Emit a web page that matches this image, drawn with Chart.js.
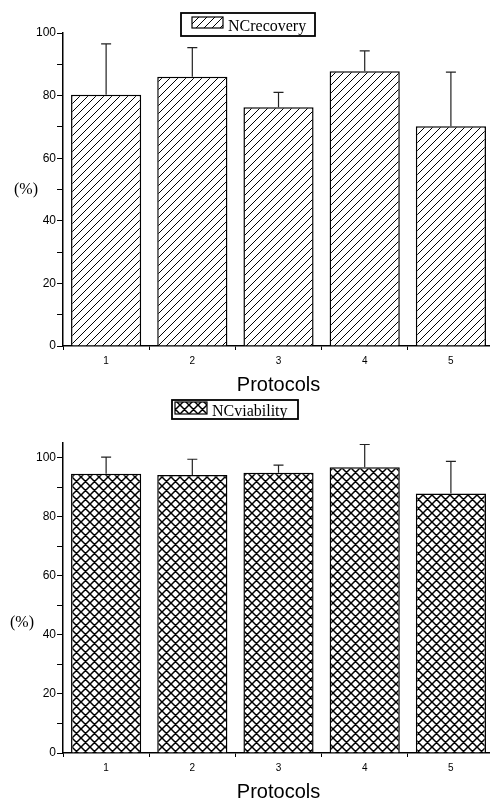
<!DOCTYPE html>
<html>
<head>
<meta charset="utf-8">
<script src="https://cdn.jsdelivr.net/npm/chart.js@4.4.0/dist/chart.umd.min.js"></script>
<style>
html, body { margin: 0; padding: 0; background: #fff; overflow: hidden; }
#wrap { position: relative; width: 490px; height: 800px; overflow: hidden; }
canvas { position: absolute; left: 0; }
#recoveryChart { top: 0; }
#viabilityChart { top: 396px; }
</style>
</head>
<body>
<div id="wrap">
  <canvas id="recoveryChart" width="494" height="397"></canvas>
  <canvas id="viabilityChart" width="494" height="408"></canvas>
</div>
<script>
// values
const protocols = ['1', '2', '3', '4', '5'];
const recovery = [80.3, 86.0, 76.3, 87.8, 70.2];
const recoveryErr = [16.2, 9.3, 4.7, 6.5, 17.3];
const viability = [94.6, 94.2, 94.9, 96.8, 87.9];
const viabilityErr = [5.6, 5.3, 2.6, 7.7, 10.9];

function makeHatch(ctx, cross) {
    let s = cross ? 9 : 8;
    let c = document.createElement('canvas');
    c.width = s;
    c.height = s;
    let g = c.getContext('2d');
    g.fillStyle = '#fff';
    g.fillRect(0, 0, s, s);
    g.strokeStyle = '#000';
    g.lineWidth = cross ? 1.5 : 1;
    g.beginPath();
    g.moveTo(-1, s + 1); g.lineTo(s + 1, -1);
    g.moveTo(-1, 1); g.lineTo(1, -1);
    g.moveTo(s - 1, s + 1); g.lineTo(s + 1, s - 1);
    if (cross) {
        g.moveTo(-1, -1); g.lineTo(s + 1, s + 1);
        g.moveTo(s - 1, -1); g.lineTo(s + 1, 1);
        g.moveTo(-1, s - 1); g.lineTo(1, s + 1);
    }
    g.stroke();
    return ctx.createPattern(c, 'repeat');
}

// up-only error bars with a cap
const errorBars = {
    id: 'errorBars',
    afterDatasetsDraw(chart, args, opts) {
        const ctx = chart.ctx;
        const meta = chart.getDatasetMeta(0);
        const y = chart.scales.y;
        const vals = chart.data.datasets[0].data;
        ctx.save();
        ctx.strokeStyle = '#222';
        ctx.lineWidth = 1.2;
        meta.data.forEach((bar, i) => {
            const top = y.getPixelForValue(vals[i] + opts.errors[i]);
            ctx.beginPath();
            ctx.moveTo(bar.x, bar.y);
            ctx.lineTo(bar.x, top);
            ctx.moveTo(bar.x - 5, top);
            ctx.lineTo(bar.x + 5, top);
            ctx.stroke();
        });
        ctx.restore();
    }
};

// framed legend like the old plot
const boxLegend = {
    id: 'boxLegend',
    afterDraw(chart, args, o) {
        const ctx = chart.ctx;
        const ds = chart.data.datasets[0];
        ctx.save();
        ctx.strokeStyle = '#000';
        ctx.lineWidth = 1.8;
        ctx.strokeRect(o.x, o.y, o.w, o.h);
        ctx.fillStyle = ds.backgroundColor;
        ctx.fillRect(o.x + o.sx, o.y + o.sy, o.sw, o.sh);
        ctx.lineWidth = 1.2;
        ctx.strokeRect(o.x + o.sx, o.y + o.sy, o.sw, o.sh);
        ctx.fillStyle = '#000';
        ctx.font = '16px "Liberation Serif"';
        ctx.textBaseline = 'alphabetic';
        ctx.fillText(ds.label, o.x + o.tx, o.y + o.ty);
        ctx.restore();
    }
};

// horizontal "(%)" to the left of the y axis
const percentLabel = {
    id: 'percentLabel',
    afterDraw(chart, args, o) {
        const ctx = chart.ctx;
        ctx.save();
        ctx.fillStyle = '#000';
        ctx.font = '16px "Liberation Serif"';
        ctx.textAlign = 'center';
        ctx.textBaseline = 'middle';
        ctx.fillText('(%)', o.x, chart.scales.y.getPixelForValue(o.value));
        ctx.restore();
    }
};

function scaleOptions(max) {
    return {
        x: {
            grid: { display: true, drawOnChartArea: false, drawTicks: true, tickLength: 4, color: '#000', offset: true },
            border: { display: true, color: '#000', width: 1.5 },
            ticks: { color: '#000', font: { family: 'Liberation Sans', size: 10 }, padding: 5 },
            title: {
                display: true,
                text: 'Protocols',
                color: '#000',
                font: { family: 'Liberation Sans', size: 20 },
                padding: { top: 1, bottom: 0 }
            }
        },
        y: {
            min: 0,
            max: max,
            afterBuildTicks: (s) => { s.ticks = s.ticks.filter(t => t.value % 10 === 0); },
            grid: { display: true, drawOnChartArea: false, drawTicks: true, tickLength: 6, color: '#000' },
            border: { display: true, color: '#000', width: 1.5 },
            ticks: {
                stepSize: 10,
                autoSkip: false,
                color: '#000',
                font: { family: 'Liberation Sans', size: 12 },
                padding: 1,
                callback: v => (v % 20 === 0 ? v : '')
            }
        }
    };
}

function makeChart(id, label, values, errors, max, cross, legendBox, pct, topPad) {
    const ctx = document.getElementById(id).getContext('2d');
    return new Chart(ctx, {
        type: 'bar',
        data: {
            labels: protocols,
            datasets: [{
                label: label,
                data: values,
                backgroundColor: makeHatch(ctx, cross),
                borderColor: '#000',
                borderWidth: 1.5,
                barPercentage: 0.814,
                categoryPercentage: 1
            }]
        },
        options: {
            responsive: false,
            animation: false,
            layout: { padding: { top: topPad, left: 35, right: 0, bottom: 0 } },
            plugins: {
                legend: { display: false },
                tooltip: { enabled: false },
                errorBars: { errors: errors },
                boxLegend: legendBox,
                percentLabel: pct
            },
            scales: scaleOptions(max)
        },
        plugins: [errorBars, boxLegend, percentLabel]
    });
}

makeChart('recoveryChart', 'NCrecovery', recovery, recoveryErr, 100, false,
    { x: 181, y: 13, w: 134, h: 23, sx: 11, sy: 4, sw: 31, sh: 11, tx: 47, ty: 18 },
    { x: 26, value: 50 }, 33);

makeChart('viabilityChart', 'NCviability', viability, viabilityErr, 105, true,
    { x: 172, y: 4, w: 126, h: 19, sx: 3, sy: 2, sw: 32, sh: 12, tx: 40, ty: 16 },
    { x: 22, value: 44 }, 47);
</script>
</body>
</html>
